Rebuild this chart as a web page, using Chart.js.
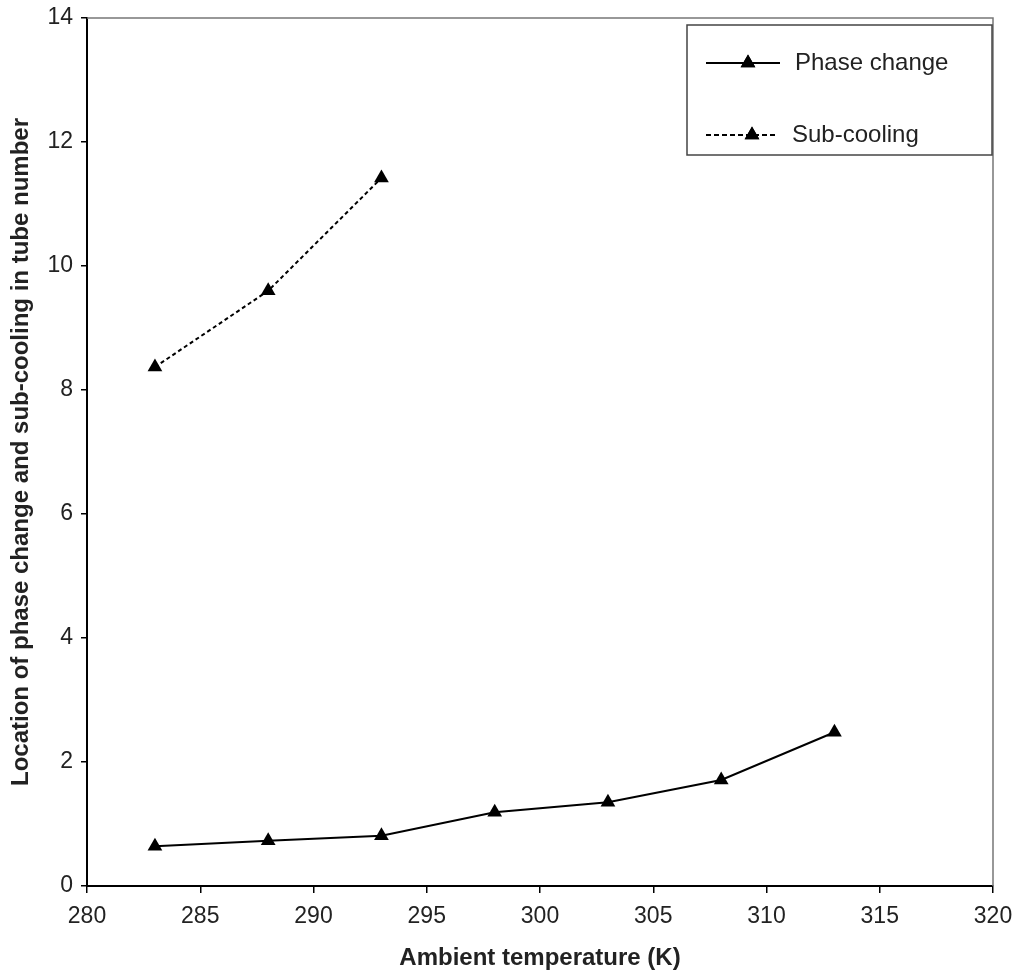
<!DOCTYPE html>
<html>
<head>
<meta charset="utf-8">
<script src="https://cdn.jsdelivr.net/npm/chart.js@4.4.1/dist/chart.umd.min.js"></script>
<style>
  html, body { margin: 0; padding: 0; background: #fff; }
  #wrap { width: 1018px; height: 973px; position: relative; }
</style>
</head>
<body>
<div id="wrap"><canvas id="chart" width="1018" height="973"></canvas></div>
<script>
// ambient temperature (K)
const temps = [283, 288, 293, 298, 303, 308, 313];
const phaseChange = [0.64, 0.73, 0.81, 1.19, 1.35, 1.71, 2.48];
const subTemps = [283, 288, 293];
const subCooling = [8.37, 9.6, 11.42];
const xTicks = [280, 285, 290, 295, 300, 305, 310, 315, 320];
const yTicks = [0, 2, 4, 6, 8, 10, 12, 14];

const FONT = 'Arial, "Liberation Sans", sans-serif';

function pairs(xs, ys) {
    return xs.map((x, i) => ({ x: x, y: ys[i] }));
}

// keep the plot box where the reference has it
function noPad(s) {
    s.paddingTop = 0;
    s.paddingBottom = 0;
    s.paddingLeft = 0;
    s.paddingRight = 0;
}

// top/right frame + legend box drawn inside the plot
const framePlugin = {
    id: 'frame',
    afterDraw(chart) {
        const ctx = chart.ctx;
        const a = chart.chartArea;
        ctx.save();
        ctx.strokeStyle = '#777';
        ctx.lineWidth = 1.5;
        ctx.beginPath();
        ctx.moveTo(a.left, a.top);
        ctx.lineTo(a.right, a.top);
        ctx.lineTo(a.right, a.bottom);
        ctx.stroke();

        // legend
        const bx = a.right - 306, by = a.top + 7, bw = 305, bh = 130;
        ctx.strokeStyle = '#444';
        ctx.lineWidth = 1.5;
        ctx.strokeRect(bx, by, bw, bh);

        const items = [
            { label: 'Phase change', dash: [], y: by + 38, x2: bx + 93, mx: bx + 61, tx: bx + 108 },
            { label: 'Sub-cooling', dash: [5, 3], y: by + 110, x2: bx + 90, mx: bx + 65, tx: bx + 105 }
        ];
        items.forEach(it => {
            ctx.strokeStyle = '#000';
            ctx.lineWidth = 2;
            ctx.setLineDash(it.dash);
            ctx.beginPath();
            ctx.moveTo(bx + 19, it.y);
            ctx.lineTo(it.x2, it.y);
            ctx.stroke();
            ctx.setLineDash([]);
            ctx.fillStyle = '#000';
            Chart.helpers.drawPoint(ctx, { pointStyle: 'triangle', radius: 8.5, borderWidth: 0 }, it.mx, it.y);
            ctx.fill();
            ctx.fillStyle = '#222';
            ctx.font = '24px ' + FONT;
            ctx.textAlign = 'left';
            ctx.textBaseline = 'middle';
            ctx.fillText(it.label, it.tx, it.y);
        });
        ctx.restore();
    }
};

new Chart(document.getElementById('chart'), {
    type: 'line',
    data: {
        datasets: [
            {
                label: 'Phase change',
                data: pairs(temps, phaseChange),
                borderColor: '#000',
                backgroundColor: '#000',
                borderWidth: 2,
                pointStyle: 'triangle',
                pointRadius: 8.5,
                pointBorderWidth: 0,
                tension: 0
            },
            {
                label: 'Sub-cooling',
                data: pairs(subTemps, subCooling),
                borderColor: '#000',
                backgroundColor: '#000',
                borderWidth: 2,
                borderDash: [4, 3],
                pointStyle: 'triangle',
                pointRadius: 8.5,
                pointBorderWidth: 0,
                tension: 0
            }
        ]
    },
    options: {
        responsive: false,
        animation: false,
        layout: { padding: { left: 0, top: 18, right: 25, bottom: 0 } },
        plugins: {
            legend: { display: false },
            tooltip: { enabled: false }
        },
        scales: {
            x: {
                type: 'linear',
                min: 280,
                max: 320,
                afterBuildTicks: s => { s.ticks = xTicks.map(v => ({ value: v })); },
                afterFit: s => { s.height = 87; noPad(s); },
                grid: { drawOnChartArea: false, tickLength: 7, color: '#000', lineWidth: 1.5 },
                border: { display: true, color: '#000', width: 2 },
                ticks: { color: '#222', padding: 10, font: { size: 23, family: FONT } },
                title: {
                    display: true,
                    text: 'Ambient temperature (K)',
                    color: '#222',
                    font: { size: 24, weight: 'bold', family: FONT },
                    padding: { top: 0, bottom: 0 }
                }
            },
            y: {
                min: 0,
                max: 14,
                afterBuildTicks: s => { s.ticks = yTicks.map(v => ({ value: v })); },
                afterFit: s => { s.width = 87; noPad(s); },
                grid: { drawOnChartArea: false, tickLength: 6, color: '#000', lineWidth: 1.5 },
                border: { display: true, color: '#000', width: 2 },
                ticks: { color: '#222', padding: 8, font: { size: 23, family: FONT } },
                title: {
                    display: true,
                    text: 'Location of phase change and sub-cooling in tube number',
                    color: '#222',
                    font: { size: 24, weight: 'bold', family: FONT },
                    padding: { top: 7, bottom: 0 }
                }
            }
        }
    },
    plugins: [framePlugin]
});
</script>
</body>
</html>
